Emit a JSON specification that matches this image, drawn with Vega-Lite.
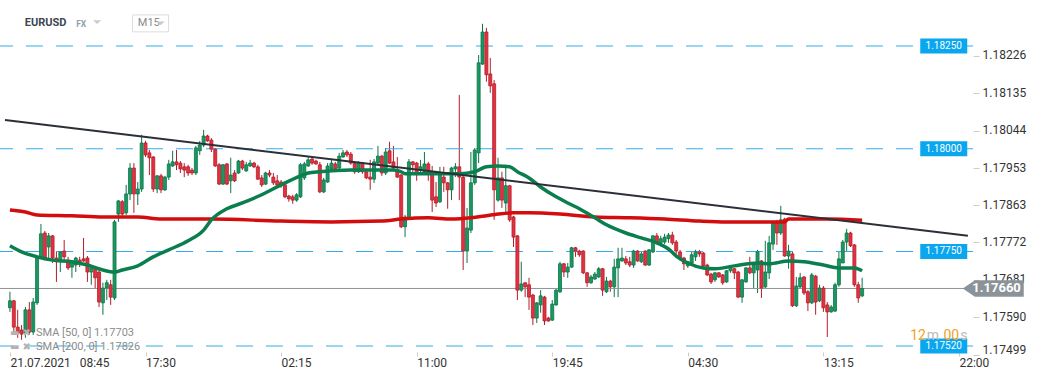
{
"$schema": "https://vega.github.io/schema/vega-lite/v6.json",
"width": 973, "height": 356,
"autosize": {"type": "none"},
"padding": {"left": 0, "top": 0, "right": 68, "bottom": 24},
"background": "#ffffff",
"config": {"view": {"stroke": null}, "font": "Roboto", "axis": {"grid": false, "domain": false}},
"datasets": {
"candles": [
{"i":0,"o":1.17613,"h":1.17652,"l":1.17603,"c":1.17630},
{"i":1,"o":1.17630,"h":1.17632,"l":1.17554,"c":1.17566},
{"i":2,"o":1.17566,"h":1.17608,"l":1.17540,"c":1.17552},
{"i":3,"o":1.17559,"h":1.17571,"l":1.17535,"c":1.17549},
{"i":4,"o":1.17552,"h":1.17615,"l":1.17540,"c":1.17608},
{"i":5,"o":1.17608,"h":1.17627,"l":1.17547,"c":1.17554},
{"i":6,"o":1.17554,"h":1.17637,"l":1.17547,"c":1.17627},
{"i":7,"o":1.17625,"h":1.17737,"l":1.17620,"c":1.17734},
{"i":8,"o":1.17734,"h":1.17817,"l":1.17732,"c":1.17793},
{"i":9,"o":1.17795,"h":1.17800,"l":1.17729,"c":1.17734},
{"i":10,"o":1.17761,"h":1.17795,"l":1.17734,"c":1.17788},
{"i":11,"o":1.17788,"h":1.17790,"l":1.17722,"c":1.17734},
{"i":12,"o":1.17734,"h":1.17749,"l":1.17676,"c":1.17725},
{"i":13,"o":1.17725,"h":1.17751,"l":1.17700,"c":1.17749},
{"i":14,"o":1.17751,"h":1.17778,"l":1.17729,"c":1.17737},
{"i":15,"o":1.17729,"h":1.17737,"l":1.17705,"c":1.17710},
{"i":16,"o":1.17712,"h":1.17729,"l":1.17686,"c":1.17725},
{"i":17,"o":1.17717,"h":1.17737,"l":1.17700,"c":1.17734},
{"i":18,"o":1.17729,"h":1.17737,"l":1.17712,"c":1.17725},
{"i":19,"o":1.17732,"h":1.17783,"l":1.17725,"c":1.17727},
{"i":20,"o":1.17734,"h":1.17739,"l":1.17676,"c":1.17700},
{"i":21,"o":1.17700,"h":1.17717,"l":1.17669,"c":1.17710},
{"i":22,"o":1.17710,"h":1.17715,"l":1.17661,"c":1.17686},
{"i":23,"o":1.17700,"h":1.17705,"l":1.17615,"c":1.17627},
{"i":24,"o":1.17625,"h":1.17674,"l":1.17596,"c":1.17661},
{"i":25,"o":1.17661,"h":1.17681,"l":1.17632,"c":1.17674},
{"i":26,"o":1.17669,"h":1.17681,"l":1.17620,"c":1.17639},
{"i":27,"o":1.17637,"h":1.17827,"l":1.17632,"c":1.17822},
{"i":28,"o":1.17841,"h":1.17875,"l":1.17822,"c":1.17873},
{"i":29,"o":1.17871,"h":1.17875,"l":1.17837,"c":1.17841},
{"i":30,"o":1.17844,"h":1.17912,"l":1.17839,"c":1.17890},
{"i":31,"o":1.17890,"h":1.17965,"l":1.17875,"c":1.17953},
{"i":32,"o":1.17953,"h":1.17965,"l":1.17844,"c":1.17890},
{"i":33,"o":1.17890,"h":1.17919,"l":1.17863,"c":1.17902},
{"i":34,"o":1.17902,"h":1.18034,"l":1.17895,"c":1.18014},
{"i":35,"o":1.18014,"h":1.18019,"l":1.17980,"c":1.17985},
{"i":36,"o":1.17990,"h":1.17997,"l":1.17936,"c":1.17978},
{"i":37,"o":1.17980,"h":1.17982,"l":1.17895,"c":1.17902},
{"i":38,"o":1.17902,"h":1.17936,"l":1.17892,"c":1.17934},
{"i":39,"o":1.17934,"h":1.17939,"l":1.17892,"c":1.17900},
{"i":40,"o":1.17900,"h":1.17934,"l":1.17897,"c":1.17931},
{"i":41,"o":1.17931,"h":1.17973,"l":1.17924,"c":1.17963},
{"i":42,"o":1.17958,"h":1.17995,"l":1.17956,"c":1.17968},
{"i":43,"o":1.17968,"h":1.17997,"l":1.17948,"c":1.17961},
{"i":44,"o":1.17965,"h":1.17970,"l":1.17941,"c":1.17951},
{"i":45,"o":1.17956,"h":1.17965,"l":1.17931,"c":1.17948},
{"i":46,"o":1.17956,"h":1.17961,"l":1.17934,"c":1.17941},
{"i":47,"o":1.17948,"h":1.17953,"l":1.17936,"c":1.17941},
{"i":48,"o":1.17941,"h":1.18007,"l":1.17936,"c":1.18002},
{"i":49,"o":1.17995,"h":1.18019,"l":1.17985,"c":1.18009},
{"i":50,"o":1.18009,"h":1.18046,"l":1.18004,"c":1.18031},
{"i":51,"o":1.18031,"h":1.18034,"l":1.18017,"c":1.18019},
{"i":52,"o":1.18021,"h":1.18026,"l":1.17992,"c":1.17999},
{"i":53,"o":1.17999,"h":1.18002,"l":1.17956,"c":1.17958},
{"i":54,"o":1.17961,"h":1.17965,"l":1.17912,"c":1.17914},
{"i":55,"o":1.17914,"h":1.17963,"l":1.17912,"c":1.17961},
{"i":56,"o":1.17963,"h":1.17965,"l":1.17912,"c":1.17914},
{"i":57,"o":1.17922,"h":1.17978,"l":1.17892,"c":1.17936},
{"i":58,"o":1.17941,"h":1.17948,"l":1.17919,"c":1.17922},
{"i":59,"o":1.17941,"h":1.17973,"l":1.17939,"c":1.17970},
{"i":60,"o":1.17970,"h":1.17973,"l":1.17948,"c":1.17953},
{"i":61,"o":1.17946,"h":1.17968,"l":1.17944,"c":1.17961},
{"i":62,"o":1.17958,"h":1.17973,"l":1.17956,"c":1.17965},
{"i":63,"o":1.17965,"h":1.17968,"l":1.17953,"c":1.17956},
{"i":64,"o":1.17956,"h":1.17961,"l":1.17924,"c":1.17926},
{"i":65,"o":1.17929,"h":1.17936,"l":1.17907,"c":1.17912},
{"i":66,"o":1.17914,"h":1.17944,"l":1.17912,"c":1.17941},
{"i":67,"o":1.17941,"h":1.17948,"l":1.17931,"c":1.17936},
{"i":68,"o":1.17931,"h":1.17941,"l":1.17912,"c":1.17917},
{"i":69,"o":1.17922,"h":1.17936,"l":1.17907,"c":1.17912},
{"i":70,"o":1.17919,"h":1.17924,"l":1.17905,"c":1.17912},
{"i":71,"o":1.17912,"h":1.17917,"l":1.17880,"c":1.17883},
{"i":72,"o":1.17885,"h":1.17888,"l":1.17871,"c":1.17878},
{"i":73,"o":1.17883,"h":1.17888,"l":1.17866,"c":1.17875},
{"i":74,"o":1.17875,"h":1.17892,"l":1.17871,"c":1.17888},
{"i":75,"o":1.17883,"h":1.17965,"l":1.17880,"c":1.17961},
{"i":76,"o":1.17929,"h":1.17968,"l":1.17924,"c":1.17963},
{"i":77,"o":1.17958,"h":1.17980,"l":1.17956,"c":1.17973},
{"i":78,"o":1.17975,"h":1.17978,"l":1.17961,"c":1.17965},
{"i":79,"o":1.17970,"h":1.17973,"l":1.17961,"c":1.17963},
{"i":80,"o":1.17961,"h":1.17968,"l":1.17892,"c":1.17895},
{"i":81,"o":1.17895,"h":1.17929,"l":1.17892,"c":1.17924},
{"i":82,"o":1.17919,"h":1.17965,"l":1.17917,"c":1.17958},
{"i":83,"o":1.17951,"h":1.17973,"l":1.17948,"c":1.17965},
{"i":84,"o":1.17963,"h":1.17968,"l":1.17948,"c":1.17951},
{"i":85,"o":1.17953,"h":1.17990,"l":1.17948,"c":1.17982},
{"i":86,"o":1.17980,"h":1.17997,"l":1.17978,"c":1.17990},
{"i":87,"o":1.17992,"h":1.17997,"l":1.17980,"c":1.17985},
{"i":88,"o":1.17987,"h":1.17992,"l":1.17961,"c":1.17965},
{"i":89,"o":1.17965,"h":1.17970,"l":1.17939,"c":1.17944},
{"i":90,"o":1.17944,"h":1.17970,"l":1.17941,"c":1.17965},
{"i":91,"o":1.17965,"h":1.17968,"l":1.17939,"c":1.17944},
{"i":92,"o":1.17944,"h":1.17948,"l":1.17926,"c":1.17929},
{"i":93,"o":1.17931,"h":1.17973,"l":1.17900,"c":1.17926},
{"i":94,"o":1.17926,"h":1.17975,"l":1.17917,"c":1.17968},
{"i":95,"o":1.17965,"h":1.18007,"l":1.17963,"c":1.17982},
{"i":96,"o":1.17982,"h":1.17985,"l":1.17934,"c":1.17941},
{"i":97,"o":1.17941,"h":1.18002,"l":1.17936,"c":1.17992},
{"i":98,"o":1.17995,"h":1.18017,"l":1.17963,"c":1.17965},
{"i":99,"o":1.17968,"h":1.18007,"l":1.17948,"c":1.17953},
{"i":100,"o":1.17948,"h":1.17980,"l":1.17929,"c":1.17931},
{"i":101,"o":1.17936,"h":1.17939,"l":1.17807,"c":1.17810},
{"i":102,"o":1.17810,"h":1.17839,"l":1.17785,"c":1.17834},
{"i":103,"o":1.17832,"h":1.17975,"l":1.17827,"c":1.17968},
{"i":104,"o":1.17968,"h":1.17970,"l":1.17941,"c":1.17961},
{"i":105,"o":1.17965,"h":1.17968,"l":1.17922,"c":1.17941},
{"i":106,"o":1.17948,"h":1.17973,"l":1.17941,"c":1.17956},
{"i":107,"o":1.17944,"h":1.17992,"l":1.17936,"c":1.17963},
{"i":108,"o":1.17963,"h":1.17968,"l":1.17922,"c":1.17944},
{"i":109,"o":1.17944,"h":1.17958,"l":1.17846,"c":1.17875},
{"i":110,"o":1.17883,"h":1.17919,"l":1.17858,"c":1.17868},
{"i":111,"o":1.17871,"h":1.17956,"l":1.17868,"c":1.17936},
{"i":112,"o":1.17931,"h":1.17956,"l":1.17895,"c":1.17917},
{"i":113,"o":1.17917,"h":1.17919,"l":1.17854,"c":1.17900},
{"i":114,"o":1.17900,"h":1.17956,"l":1.17875,"c":1.17953},
{"i":115,"o":1.17951,"h":1.17965,"l":1.17931,"c":1.17956},
{"i":116,"o":1.17956,"h":1.18131,"l":1.17875,"c":1.17931},
{"i":117,"o":1.17931,"h":1.17936,"l":1.17705,"c":1.17751},
{"i":118,"o":1.17751,"h":1.17856,"l":1.17722,"c":1.17807},
{"i":119,"o":1.17802,"h":1.17992,"l":1.17795,"c":1.17917},
{"i":120,"o":1.17917,"h":1.18002,"l":1.17912,"c":1.17997},
{"i":121,"o":1.17990,"h":1.18228,"l":1.17965,"c":1.18209},
{"i":122,"o":1.18206,"h":1.18304,"l":1.18204,"c":1.18284},
{"i":123,"o":1.18284,"h":1.18294,"l":1.18163,"c":1.18180},
{"i":124,"o":1.18182,"h":1.18221,"l":1.18136,"c":1.18153},
{"i":125,"o":1.18158,"h":1.18167,"l":1.17827,"c":1.17900},
{"i":126,"o":1.17875,"h":1.17978,"l":1.17871,"c":1.17929},
{"i":127,"o":1.17929,"h":1.17944,"l":1.17856,"c":1.17875},
{"i":128,"o":1.17868,"h":1.17961,"l":1.17844,"c":1.17910},
{"i":129,"o":1.17910,"h":1.17912,"l":1.17822,"c":1.17827},
{"i":130,"o":1.17834,"h":1.17837,"l":1.17761,"c":1.17785},
{"i":131,"o":1.17788,"h":1.17790,"l":1.17632,"c":1.17656},
{"i":132,"o":1.17656,"h":1.17725,"l":1.17652,"c":1.17671},
{"i":133,"o":1.17674,"h":1.17674,"l":1.17639,"c":1.17664},
{"i":134,"o":1.17669,"h":1.17686,"l":1.17608,"c":1.17639},
{"i":135,"o":1.17644,"h":1.17647,"l":1.17571,"c":1.17588},
{"i":136,"o":1.17588,"h":1.17627,"l":1.17576,"c":1.17625},
{"i":137,"o":1.17620,"h":1.17656,"l":1.17601,"c":1.17642},
{"i":138,"o":1.17639,"h":1.17642,"l":1.17571,"c":1.17581},
{"i":139,"o":1.17588,"h":1.17591,"l":1.17579,"c":1.17581},
{"i":140,"o":1.17583,"h":1.17632,"l":1.17581,"c":1.17622},
{"i":141,"o":1.17620,"h":1.17659,"l":1.17618,"c":1.17656},
{"i":142,"o":1.17652,"h":1.17725,"l":1.17649,"c":1.17720},
{"i":143,"o":1.17720,"h":1.17722,"l":1.17688,"c":1.17700},
{"i":144,"o":1.17700,"h":1.17722,"l":1.17686,"c":1.17712},
{"i":145,"o":1.17712,"h":1.17761,"l":1.17710,"c":1.17759},
{"i":146,"o":1.17759,"h":1.17761,"l":1.17737,"c":1.17751},
{"i":147,"o":1.17751,"h":1.17754,"l":1.17737,"c":1.17742},
{"i":148,"o":1.17751,"h":1.17753,"l":1.17695,"c":1.17698},
{"i":149,"o":1.17698,"h":1.17700,"l":1.17664,"c":1.17674},
{"i":150,"o":1.17674,"h":1.17693,"l":1.17671,"c":1.17688},
{"i":151,"o":1.17683,"h":1.17700,"l":1.17681,"c":1.17695},
{"i":152,"o":1.17688,"h":1.17712,"l":1.17686,"c":1.17708},
{"i":153,"o":1.17708,"h":1.17710,"l":1.17642,"c":1.17656},
{"i":154,"o":1.17652,"h":1.17688,"l":1.17649,"c":1.17678},
{"i":155,"o":1.17678,"h":1.17681,"l":1.17652,"c":1.17664},
{"i":156,"o":1.17664,"h":1.17732,"l":1.17639,"c":1.17712},
{"i":157,"o":1.17710,"h":1.17759,"l":1.17639,"c":1.17732},
{"i":158,"o":1.17727,"h":1.17759,"l":1.17725,"c":1.17734},
{"i":159,"o":1.17732,"h":1.17739,"l":1.17717,"c":1.17722},
{"i":160,"o":1.17725,"h":1.17737,"l":1.17712,"c":1.17717},
{"i":161,"o":1.17717,"h":1.17754,"l":1.17710,"c":1.17751},
{"i":162,"o":1.17751,"h":1.17753,"l":1.17725,"c":1.17727},
{"i":163,"o":1.17725,"h":1.17751,"l":1.17722,"c":1.17744},
{"i":164,"o":1.17751,"h":1.17753,"l":1.17715,"c":1.17717},
{"i":165,"o":1.17717,"h":1.17756,"l":1.17715,"c":1.17754},
{"i":166,"o":1.17749,"h":1.17790,"l":1.17746,"c":1.17788},
{"i":167,"o":1.17788,"h":1.17795,"l":1.17771,"c":1.17773},
{"i":168,"o":1.17771,"h":1.17788,"l":1.17768,"c":1.17781},
{"i":169,"o":1.17773,"h":1.17793,"l":1.17768,"c":1.17785},
{"i":170,"o":1.17781,"h":1.17795,"l":1.17771,"c":1.17790},
{"i":171,"o":1.17790,"h":1.17798,"l":1.17766,"c":1.17771},
{"i":172,"o":1.17773,"h":1.17778,"l":1.17742,"c":1.17751},
{"i":173,"o":1.17749,"h":1.17754,"l":1.17729,"c":1.17734},
{"i":174,"o":1.17734,"h":1.17737,"l":1.17705,"c":1.17720},
{"i":175,"o":1.17715,"h":1.17727,"l":1.17710,"c":1.17725},
{"i":176,"o":1.17722,"h":1.17751,"l":1.17720,"c":1.17742},
{"i":177,"o":1.17737,"h":1.17754,"l":1.17727,"c":1.17749},
{"i":178,"o":1.17749,"h":1.17754,"l":1.17737,"c":1.17744},
{"i":179,"o":1.17746,"h":1.17749,"l":1.17712,"c":1.17715},
{"i":180,"o":1.17717,"h":1.17720,"l":1.17690,"c":1.17693},
{"i":181,"o":1.17695,"h":1.17698,"l":1.17671,"c":1.17676},
{"i":182,"o":1.17681,"h":1.17700,"l":1.17676,"c":1.17698},
{"i":183,"o":1.17698,"h":1.17700,"l":1.17686,"c":1.17688},
{"i":184,"o":1.17693,"h":1.17695,"l":1.17669,"c":1.17674},
{"i":185,"o":1.17676,"h":1.17705,"l":1.17674,"c":1.17703},
{"i":186,"o":1.17703,"h":1.17715,"l":1.17698,"c":1.17712},
{"i":187,"o":1.17708,"h":1.17710,"l":1.17683,"c":1.17698},
{"i":188,"o":1.17700,"h":1.17703,"l":1.17637,"c":1.17639},
{"i":189,"o":1.17639,"h":1.17683,"l":1.17625,"c":1.17681},
{"i":190,"o":1.17676,"h":1.17712,"l":1.17674,"c":1.17710},
{"i":191,"o":1.17710,"h":1.17737,"l":1.17695,"c":1.17698},
{"i":192,"o":1.17698,"h":1.17722,"l":1.17661,"c":1.17717},
{"i":193,"o":1.17705,"h":1.17754,"l":1.17649,"c":1.17749},
{"i":194,"o":1.17727,"h":1.17729,"l":1.17637,"c":1.17661},
{"i":195,"o":1.17664,"h":1.17776,"l":1.17661,"c":1.17700},
{"i":196,"o":1.17698,"h":1.17788,"l":1.17683,"c":1.17771},
{"i":197,"o":1.17768,"h":1.17824,"l":1.17754,"c":1.17819},
{"i":198,"o":1.17819,"h":1.17827,"l":1.17766,"c":1.17795},
{"i":199,"o":1.17795,"h":1.17861,"l":1.17790,"c":1.17827},
{"i":200,"o":1.17829,"h":1.17832,"l":1.17737,"c":1.17739},
{"i":201,"o":1.17739,"h":1.17766,"l":1.17708,"c":1.17751},
{"i":202,"o":1.17744,"h":1.17751,"l":1.17615,"c":1.17618},
{"i":203,"o":1.17618,"h":1.17688,"l":1.17615,"c":1.17666},
{"i":204,"o":1.17664,"h":1.17698,"l":1.17661,"c":1.17686},
{"i":205,"o":1.17688,"h":1.17690,"l":1.17644,"c":1.17649},
{"i":206,"o":1.17652,"h":1.17656,"l":1.17605,"c":1.17625},
{"i":207,"o":1.17625,"h":1.17698,"l":1.17622,"c":1.17693},
{"i":208,"o":1.17690,"h":1.17693,"l":1.17596,"c":1.17627},
{"i":209,"o":1.17630,"h":1.17669,"l":1.17627,"c":1.17661},
{"i":210,"o":1.17661,"h":1.17666,"l":1.17603,"c":1.17613},
{"i":211,"o":1.17620,"h":1.17627,"l":1.17542,"c":1.17603},
{"i":212,"o":1.17603,"h":1.17620,"l":1.17601,"c":1.17615},
{"i":213,"o":1.17605,"h":1.17674,"l":1.17603,"c":1.17669},
{"i":214,"o":1.17669,"h":1.17751,"l":1.17664,"c":1.17732},
{"i":215,"o":1.17722,"h":1.17778,"l":1.17722,"c":1.17773},
{"i":216,"o":1.17773,"h":1.17805,"l":1.17751,"c":1.17795},
{"i":217,"o":1.17795,"h":1.17798,"l":1.17761,"c":1.17764},
{"i":218,"o":1.17766,"h":1.17768,"l":1.17664,"c":1.17669},
{"i":219,"o":1.17669,"h":1.17676,"l":1.17625,"c":1.17637},
{"i":220,"o":1.17642,"h":1.17686,"l":1.17639,"c":1.17660}
],
"sma200": [
{"i":0,"v":1.17851},{"i":4,"v":1.17846},{"i":7,"v":1.17839},{"i":16,"v":1.17837},{"i":24,"v":1.17834},{"i":33,"v":1.17834},{"i":39,"v":1.17829},{"i":52,"v":1.17829},{"i":70,"v":1.17824},{"i":83,"v":1.17822},{"i":96,"v":1.17824},{"i":101,"v":1.17829},{"i":108,"v":1.17832},{"i":114,"v":1.17829},{"i":119,"v":1.17832},{"i":123,"v":1.17837},{"i":126,"v":1.17841},{"i":130,"v":1.17844},{"i":134,"v":1.17844},{"i":142,"v":1.17841},{"i":151,"v":1.17834},{"i":160,"v":1.17832},{"i":169,"v":1.17829},{"i":178,"v":1.17824},{"i":185,"v":1.17822},{"i":200,"v":1.17822},{"i":201,"v":1.17829},{"i":211,"v":1.17829},{"i":220,"v":1.17826}
],
"sma50": [
{"i":0,"v":1.17764},{"i":3,"v":1.17749},{"i":7,"v":1.17737},{"i":11,"v":1.17729},{"i":16,"v":1.17725},{"i":20,"v":1.17717},{"i":24,"v":1.17705},{"i":27,"v":1.17700},{"i":29,"v":1.17705},{"i":33,"v":1.17715},{"i":37,"v":1.17737},{"i":41,"v":1.17754},{"i":46,"v":1.17776},{"i":50,"v":1.17802},{"i":52,"v":1.17827},{"i":56,"v":1.17854},{"i":60,"v":1.17868},{"i":65,"v":1.17888},{"i":70,"v":1.17912},{"i":75,"v":1.17934},{"i":77,"v":1.17941},{"i":80,"v":1.17944},{"i":88,"v":1.17948},{"i":99,"v":1.17948},{"i":101,"v":1.17944},{"i":102,"v":1.17939},{"i":116,"v":1.17939},{"i":120,"v":1.17944},{"i":123,"v":1.17956},{"i":126,"v":1.17958},{"i":129,"v":1.17956},{"i":131,"v":1.17944},{"i":134,"v":1.17929},{"i":137,"v":1.17907},{"i":141,"v":1.17883},{"i":144,"v":1.17868},{"i":147,"v":1.17854},{"i":151,"v":1.17832},{"i":154,"v":1.17815},{"i":159,"v":1.17795},{"i":163,"v":1.17783},{"i":167,"v":1.17771},{"i":170,"v":1.17756},{"i":172,"v":1.17739},{"i":175,"v":1.17722},{"i":179,"v":1.17710},{"i":182,"v":1.17708},{"i":187,"v":1.17715},{"i":193,"v":1.17722},{"i":196,"v":1.17720},{"i":201,"v":1.17727},{"i":205,"v":1.17725},{"i":210,"v":1.17717},{"i":214,"v":1.17710},{"i":218,"v":1.17710},{"i":220,"v":1.17703}
],
"levels": [{"p":1.1825},{"p":1.18},{"p":1.1775},{"p":1.1752}],
"trend": [{"i":-1.278,"p":1.1807},{"i":247.3,"p":1.17788}]
},
"layer": [
{"data":{"name":"candles"},"mark":{"type":"rule","strokeWidth":1},
 "encoding":{
  "x":{"field":"i","type":"quantitative","scale":{"domain":[-1.278,247.33],"nice":false,"zero":false},
   "axis":{"values":[0,35,70,105,140,175,210,245],"labelExpr":"['21.07.2021\u00a0\u00a0\u00a008:45','17:30','02:15','11:00','19:45','04:30','13:15','22:00'][round(datum.value/35)]","labelAlign":"left","labelPadding":1,"tickSize":4,"tickColor":"#cccccc","domain":false,"grid":false,"title":null,"labelColor":"#333333","labelFontSize":12,"labelFont":"Roboto","offset":-4,"labelOverlap":false,"labelFlush":false,"labelBound":false}},
  "y":{"field":"l","type":"quantitative","scale":{"domain":[1.174957,1.183619],"nice":false,"zero":false},
   "axis":{"orient":"right","values":[1.17499,1.1759,1.17681,1.17772,1.17863,1.17953,1.18044,1.18135,1.18226],"format":".5f","tickSize":6,"tickColor":"#cccccc","labelPadding":3,"labelOffset":{"condition":{"test":"datum.value < 1.175","value":-5},"value":-1},"domain":false,"grid":false,"title":null,"labelColor":"#333333","labelFontSize":12,"labelFont":"Roboto","labelOverlap":false,"labelFlush":false}},
  "y2":{"field":"h"},
  "color":{"condition":{"test":"datum.c >= datum.o","value":"#0d7447"},"value":"#b01e2b"}}},
{"data":{"name":"levels"},"mark":{"type":"rule","color":"#34aeea","strokeWidth":1.2,"strokeDash":[17,13]},
 "encoding":{"y":{"field":"p","type":"quantitative","scale":{"domain":[1.174957,1.183619],"nice":false,"zero":false},"axis":{"title":null}}}},
{"data":{"values":[{"p":1.1766}]},"mark":{"type":"rule","color":"#8e9499","strokeWidth":1},
 "encoding":{"y":{"field":"p","type":"quantitative","scale":{"domain":[1.174957,1.183619],"nice":false,"zero":false},"axis":{"title":null}}}},
{"data":{"name":"candles"},"mark":{"type":"bar","size":3,"strokeWidth":0.8,"orient":"vertical"},
 "encoding":{
  "x":{"field":"i","type":"quantitative","scale":{"domain":[-1.278,247.33],"nice":false,"zero":false},"axis":{"title":null}},
  "y":{"field":"o","type":"quantitative","scale":{"domain":[1.174957,1.183619],"nice":false,"zero":false},"axis":{"title":null}},
  "y2":{"field":"c"},
  "fill":{"condition":{"test":"datum.c >= datum.o","value":"#1a9862"},"value":"#e5313f"},
  "stroke":{"condition":{"test":"datum.c >= datum.o","value":"#0d7447"},"value":"#b01e2b"}}},
{"data":{"name":"sma200"},"mark":{"type":"line","color":"#d30d0d","strokeWidth":3.5,"interpolate":"monotone"},
 "encoding":{
  "x":{"field":"i","type":"quantitative","scale":{"domain":[-1.278,247.33],"nice":false,"zero":false},"axis":{"title":null}},
  "y":{"field":"v","type":"quantitative","scale":{"domain":[1.174957,1.183619],"nice":false,"zero":false},"axis":{"title":null}}}},
{"data":{"name":"sma50"},"mark":{"type":"line","color":"#0b7e4e","strokeWidth":3.5,"interpolate":"monotone"},
 "encoding":{
  "x":{"field":"i","type":"quantitative","scale":{"domain":[-1.278,247.33],"nice":false,"zero":false},"axis":{"title":null}},
  "y":{"field":"v","type":"quantitative","scale":{"domain":[1.174957,1.183619],"nice":false,"zero":false},"axis":{"title":null}}}},
{"data":{"name":"trend"},"mark":{"type":"line","color":"#2b3038","strokeWidth":2},
 "encoding":{
  "x":{"field":"i","type":"quantitative","scale":{"domain":[-1.278,247.33],"nice":false,"zero":false},"axis":{"title":null}},
  "y":{"field":"p","type":"quantitative","scale":{"domain":[1.174957,1.183619],"nice":false,"zero":false},"axis":{"title":null}}}},
{"data":{"name":"levels"},"mark":{"type":"point","shape":"M-1,-0.32L1,-0.32L1,0.32L-1,0.32Z","size":2209,"filled":true,"fill":"#0aa6ee","opacity":1,"strokeWidth":0},
 "encoding":{
  "x":{"datum":241.07,"type":"quantitative","scale":{"domain":[-1.278,247.33],"nice":false,"zero":false},"axis":{"title":null}},
  "y":{"field":"p","type":"quantitative","scale":{"domain":[1.174957,1.183619],"nice":false,"zero":false},"axis":{"title":null}}}},
{"data":{"name":"levels"},"mark":{"type":"text","color":"#ffffff","fontSize":10,"font":"Roboto"},
 "encoding":{
  "x":{"datum":241.07,"type":"quantitative","scale":{"domain":[-1.278,247.33],"nice":false,"zero":false},"axis":{"title":null}},
  "y":{"field":"p","type":"quantitative","scale":{"domain":[1.174957,1.183619],"nice":false,"zero":false},"axis":{"title":null}},
  "text":{"field":"p","type":"quantitative","format":".5f"}}},
{"data":{"values":[{"p":1.1766}]},"mark":{"type":"point","shape":"M-1,0L-0.6,-0.27L1,-0.27L1,0.27L-0.6,0.27Z","size":3721,"filled":true,"fill":"#8b9399","opacity":1,"strokeWidth":0},
 "encoding":{
  "x":{"datum":253.85,"type":"quantitative","scale":{"domain":[-1.278,247.33],"nice":false,"zero":false},"axis":{"title":null}},
  "y":{"field":"p","type":"quantitative","scale":{"domain":[1.174957,1.183619],"nice":false,"zero":false},"axis":{"title":null}}}},
{"data":{"values":[{"p":1.1766}]},"mark":{"type":"text","color":"#ffffff","fontSize":13,"fontWeight":"bold","font":"Roboto"},
 "encoding":{
  "x":{"datum":254.7,"type":"quantitative","scale":{"domain":[-1.278,247.33],"nice":false,"zero":false},"axis":{"title":null}},
  "y":{"field":"p","type":"quantitative","scale":{"domain":[1.174957,1.183619],"nice":false,"zero":false},"axis":{"title":null}},
  "text":{"field":"p","type":"quantitative","format":".5f"}}},
{"data":{"values":[{"t":"EURUSD","i":3.83,"p":1.18306}]},"mark":{"type":"text","align":"left","color":"#3d4651","fontSize":11,"fontWeight":"bold","font":"Roboto"},
 "encoding":{
  "x":{"field":"i","type":"quantitative","scale":{"domain":[-1.278,247.33],"nice":false,"zero":false},"axis":{"title":null}},
  "y":{"field":"p","type":"quantitative","scale":{"domain":[1.174957,1.183619],"nice":false,"zero":false},"axis":{"title":null}},
  "text":{"field":"t"}}},
{"data":{"values":[{"t":"FX","i":17.1,"p":1.18303}]},"mark":{"type":"text","align":"left","color":"#8fa0ad","fontSize":8.5,"fontWeight":"bold","font":"Roboto"},
 "encoding":{
  "x":{"field":"i","type":"quantitative","scale":{"domain":[-1.278,247.33],"nice":false,"zero":false},"axis":{"title":null}},
  "y":{"field":"p","type":"quantitative","scale":{"domain":[1.174957,1.183619],"nice":false,"zero":false},"axis":{"title":null}},
  "text":{"field":"t"}}},
{"data":{"values":[{"i":36.3,"p":1.18305}]},"mark":{"type":"point","shape":"M-1,-0.47L1,-0.47L1,0.47L-1,0.47Z","size":1296,"filled":false,"stroke":"#dddddd","strokeWidth":1,"opacity":1,"fill":"#ffffff"},
 "encoding":{
  "x":{"field":"i","type":"quantitative","scale":{"domain":[-1.278,247.33],"nice":false,"zero":false},"axis":{"title":null}},
  "y":{"field":"p","type":"quantitative","scale":{"domain":[1.174957,1.183619],"nice":false,"zero":false},"axis":{"title":null}}}},
{"data":{"values":[{"t":"M15","i":33.0,"p":1.18305}]},"mark":{"type":"text","align":"left","color":"#8a8a8a","fontSize":11,"font":"Roboto"},
 "encoding":{
  "x":{"field":"i","type":"quantitative","scale":{"domain":[-1.278,247.33],"nice":false,"zero":false},"axis":{"title":null}},
  "y":{"field":"p","type":"quantitative","scale":{"domain":[1.174957,1.183619],"nice":false,"zero":false},"axis":{"title":null}},
  "text":{"field":"t"}}},
{"data":{"values":[{"i":22.5,"p":1.18308},{"i":38.9,"p":1.18305}]},"mark":{"type":"point","shape":"M-1,-0.45L1,-0.45L0,0.45Z","size":64,"filled":true,"fill":"#c5cbd1","opacity":1,"strokeWidth":0},
 "encoding":{
  "x":{"field":"i","type":"quantitative","scale":{"domain":[-1.278,247.33],"nice":false,"zero":false},"axis":{"title":null}},
  "y":{"field":"p","type":"quantitative","scale":{"domain":[1.174957,1.183619],"nice":false,"zero":false},"axis":{"title":null}}}},
{"data":{"values":[{"t":"SMA [50, 0] 1.17703","i":6.7,"p":1.175516},{"t":"SMA [200, 0] 1.17826","i":6.7,"p":1.175176}]},"mark":{"type":"text","align":"left","color":"#8c8c8c","fontSize":11,"font":"Roboto"},
 "encoding":{
  "x":{"field":"i","type":"quantitative","scale":{"domain":[-1.278,247.33],"nice":false,"zero":false},"axis":{"title":null}},
  "y":{"field":"p","type":"quantitative","scale":{"domain":[1.174957,1.183619],"nice":false,"zero":false},"axis":{"title":null}},
  "text":{"field":"t"}}},
{"data":{"values":[{"t":"▬ ✖","i":0,"p":1.175516},{"t":"▬ ✖","i":0,"p":1.175176}]},"mark":{"type":"text","align":"left","color":"#b3b3b3","fontSize":10,"font":"DejaVu Sans"},
 "encoding":{
  "x":{"field":"i","type":"quantitative","scale":{"domain":[-1.278,247.33],"nice":false,"zero":false},"axis":{"title":null}},
  "y":{"field":"p","type":"quantitative","scale":{"domain":[1.174957,1.183619],"nice":false,"zero":false},"axis":{"title":null}},
  "text":{"field":"t"}}},
{"data":{"values":[{"t":"12","k":"n","i":232.4},{"t":"m","k":"u","i":236.7},{"t":"00","k":"n","i":241.0},{"t":"s","k":"u","i":245.3}]},"mark":{"type":"text","align":"left","fontSize":14,"font":"Roboto"},
 "encoding":{
  "x":{"field":"i","type":"quantitative","scale":{"domain":[-1.278,247.33],"nice":false,"zero":false},"axis":{"title":null}},
  "y":{"datum":1.17545,"type":"quantitative","scale":{"domain":[1.174957,1.183619],"nice":false,"zero":false},"axis":{"title":null}},
  "color":{"field":"k","type":"nominal","scale":{"domain":["n","u"],"range":["#f5a11c","#b9b9b9"]},"legend":null},
  "text":{"field":"t"}}}
]
}
